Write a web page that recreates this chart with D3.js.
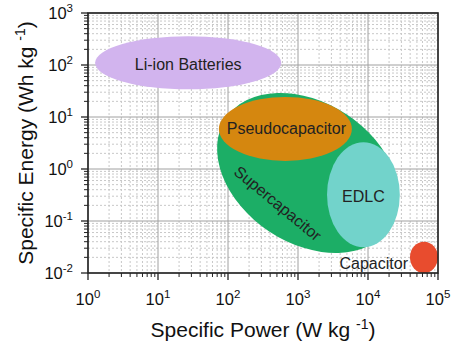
<!DOCTYPE html>
<html><head><meta charset="utf-8">
<script src="https://cdn.jsdelivr.net/npm/d3@7"></script>
<style>body{margin:0;background:#fff}svg{display:block}text{font-family:"Liberation Sans",Arial,sans-serif}</style>
</head><body>
<svg id="c" width="451" height="348"></svg>
<script>
// ---- data ----
const xDomain = [1, 1e5];
const yDomain = [0.01, 1000];
const xMajorExp = [0, 1, 2, 3, 4, 5];
const yMajorExp = [-2, -1, 0, 1, 2, 3];
const regionNames = ["Li-ion Batteries", "Supercapacitor", "Pseudocapacitor", "EDLC", "Capacitor"];
const centerPower = [27, 1390, 660, 8600, 63000];      // W/kg
const centerEnergy = [110, 0.84, 5.9, 0.32, 0.020];    // Wh/kg
const halfSpanPowerDec = [1.33, 1.41, 0.95, 0.52, 0.20];  // decades
const halfSpanEnergyDec = [0.51, 1.35, 0.615, 1.01, 0.30]; // decades
const tiltDeg = [0, 33.6, 0, 0, 0];
const regionColors = ["#d2b4ee", "#1cae66", "#d5870f", "#72d3cb", "#e84c2e"];
const xTitle = "Specific Power (W kg ";
const yTitle = "Specific Energy (Wh kg ";

// ---- layout ----
const L = 88, R = 438, T = 13, B = 273;
const svg = d3.select("#c");
const x = d3.scaleLog().domain(xDomain).range([L, R]);
const y = d3.scaleLog().domain(yDomain).range([B, T]);

function minors(lo, hi) {
  const out = [];
  for (let e = lo; e < hi; e++) for (let m = 2; m <= 9; m++) out.push(m * Math.pow(10, e));
  return out;
}
const xMinor = minors(0, 5), yMinor = minors(-2, 3);
const xMajor = xMajorExp.map(e => Math.pow(10, e));
const yMajor = yMajorExp.map(e => Math.pow(10, e));

// grid
const g = svg.append("g");
g.selectAll(".vmin").data(xMinor).join("line")
  .attr("x1", d => x(d)).attr("x2", d => x(d)).attr("y1", T).attr("y2", B)
  .attr("stroke", "#c8c8c8").attr("stroke-width", 1).attr("stroke-dasharray", "2,2");
g.selectAll(".hmin").data(yMinor).join("line")
  .attr("y1", d => y(d)).attr("y2", d => y(d)).attr("x1", L).attr("x2", R)
  .attr("stroke", "#c8c8c8").attr("stroke-width", 1).attr("stroke-dasharray", "2,2");
g.selectAll(".vmaj").data(xMajor).join("line")
  .attr("x1", d => x(d)).attr("x2", d => x(d)).attr("y1", T).attr("y2", B)
  .attr("stroke", "#a0a0a0").attr("stroke-width", 1);
g.selectAll(".hmaj").data(yMajor).join("line")
  .attr("y1", d => y(d)).attr("y2", d => y(d)).attr("x1", L).attr("x2", R)
  .attr("stroke", "#a0a0a0").attr("stroke-width", 1);

// regions
const regions = regionNames.map((n, i) => ({
  name: n, cp: centerPower[i], ce: centerEnergy[i],
  sx: halfSpanPowerDec[i], sy: halfSpanEnergyDec[i], tilt: tiltDeg[i], color: regionColors[i]
}));
svg.append("g").selectAll("ellipse").data(regions).join("ellipse")
  .attr("cx", d => x(d.cp)).attr("cy", d => y(d.ce))
  .attr("rx", d => x(d.cp * Math.pow(10, d.sx)) - x(d.cp))
  .attr("ry", d => y(d.ce) - y(d.ce * Math.pow(10, d.sy)))
  .attr("transform", d => `rotate(${d.tilt},${x(d.cp)},${y(d.ce)})`)
  .attr("fill", d => d.color);

// labels
const lab = svg.append("g").attr("font-size", 16).attr("fill", "#222");
lab.append("text").attr("x", x(centerPower[0])).attr("y", 70).attr("text-anchor", "middle").text(regionNames[0]);
lab.append("text").attr("x", x(centerPower[2]) + 1).attr("y", 134).attr("text-anchor", "middle").text(regionNames[2]);
lab.append("text").attr("x", x(centerPower[3])).attr("y", 202).attr("text-anchor", "middle").text(regionNames[3]);
lab.append("text").attr("x", 408).attr("y", 269).attr("text-anchor", "end").text(regionNames[4]);
lab.append("text").attr("transform", `translate(278,203) rotate(39.5)`)
  .attr("text-anchor", "middle").attr("y", 6).text(regionNames[1]);

// axes ticks
const ax = svg.append("g").attr("stroke", "#222");
ax.selectAll(".xt").data(xMinor).join("line").attr("x1", d => x(d)).attr("x2", d => x(d)).attr("y1", B).attr("y2", B + 4).attr("stroke-width", 1);
ax.selectAll(".xT").data(xMajor).join("line").attr("x1", d => x(d)).attr("x2", d => x(d)).attr("y1", B).attr("y2", B + 7).attr("stroke-width", 1.3);
ax.selectAll(".yt").data(yMinor).join("line").attr("y1", d => y(d)).attr("y2", d => y(d)).attr("x1", L - 4).attr("x2", L).attr("stroke-width", 1);
ax.selectAll(".yT").data(yMajor).join("line").attr("y1", d => y(d)).attr("y2", d => y(d)).attr("x1", L - 7).attr("x2", L).attr("stroke-width", 1.3);
svg.append("rect").attr("x", L).attr("y", T).attr("width", R - L).attr("height", B - T)
  .attr("fill", "none").attr("stroke", "#222").attr("stroke-width", 1.6);

// tick labels
const tl = svg.append("g").attr("fill", "#111");
xMajorExp.forEach(e => {
  const t = tl.append("text").attr("x", x(Math.pow(10, e))).attr("y", 305).attr("text-anchor", "middle").attr("font-size", 16.5);
  t.append("tspan").text("10");
  t.append("tspan").attr("font-size", 11.5).attr("dy", -7).text(e);
});
yMajorExp.forEach(e => {
  const t = tl.append("text").attr("x", 73).attr("y", y(Math.pow(10, e)) + 6).attr("text-anchor", "end").attr("font-size", 16.5);
  t.append("tspan").text("10");
  t.append("tspan").attr("font-size", 11.5).attr("dy", -7).text(e);
});

// titles
const xt = svg.append("text").attr("x", 263).attr("y", 337).attr("text-anchor", "middle").attr("font-size", 21).attr("fill", "#111");
xt.append("tspan").text(xTitle);
xt.append("tspan").attr("font-size", 14).attr("dy", -8).text("-1");
xt.append("tspan").attr("dy", 8).text(")");
const yt = svg.append("text").attr("transform", `translate(33,${(T + B) / 2}) rotate(-90)`).attr("text-anchor", "middle").attr("font-size", 21).attr("fill", "#111");
yt.append("tspan").text(yTitle);
yt.append("tspan").attr("font-size", 14).attr("dy", -8).text("-1");
yt.append("tspan").attr("dy", 8).text(")");
</script>
</body></html>
